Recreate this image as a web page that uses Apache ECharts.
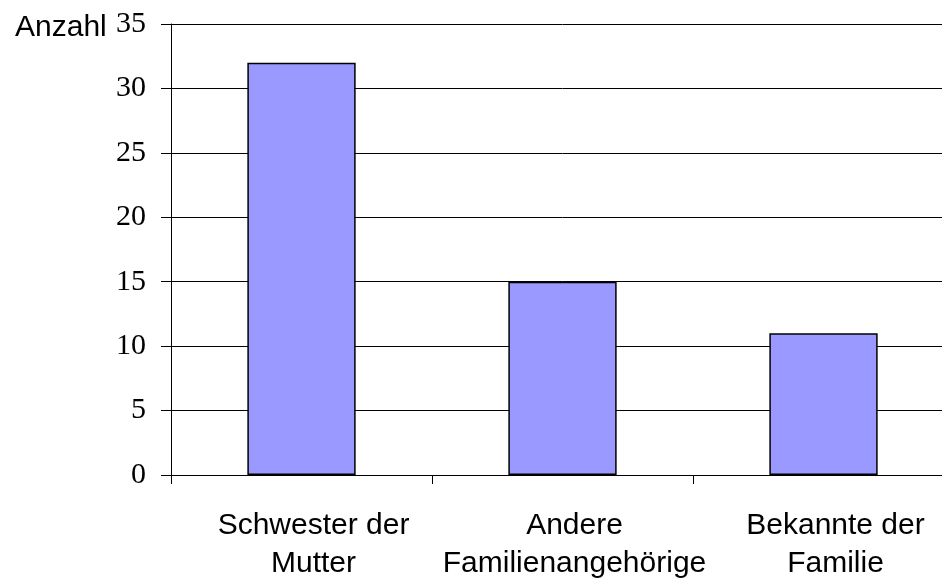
<!DOCTYPE html>
<html><head><meta charset="utf-8">
<script src="https://cdn.jsdelivr.net/npm/echarts@6/dist/echarts.min.js"></script>
<style>html,body{margin:0;padding:0;background:#fff;overflow:hidden}#c{width:960px;height:584px}</style>
</head><body><div id="c"></div>
<script>
const categories = ['Schwester der\nMutter', 'Andere\nFamilienangehörige', 'Bekannte der\nFamilie'];
const values = [32, 15, 11];
const yTicks = [0, 5, 10, 15, 20, 25, 30, 35];

const chart = echarts.init(document.getElementById('c'));
chart.setOption({
  animation: false,
  backgroundColor: '#fff',
  title: { text: 'Anzahl', left: 10, top: 8, textStyle: { fontFamily: 'Liberation Sans', fontSize: 30, fontWeight: 'normal', color: '#000' } },
  grid: { left: 171, right: 6, top: 24, height: 451, containLabel: false },
  xAxis: {
    type: 'category', data: categories, boundaryGap: true,
    axisLine: { lineStyle: { color: '#000', width: 1 } },
    axisTick: { show: true, inside: false, length: 9, lineStyle: { color: '#000' } },
    axisLabel: { fontFamily: 'Liberation Sans', fontSize: 30, color: '#000', lineHeight: 38, margin: 32, interval: 0, padding: [0, 0, 0, 24] }
  },
  yAxis: {
    type: 'value', min: yTicks[0], max: yTicks[yTicks.length - 1], interval: 5,
    axisLine: { show: true, lineStyle: { color: '#000' } },
    axisTick: { show: true, length: 10, lineStyle: { color: '#000' } },
    splitLine: { show: true, lineStyle: { color: '#000', width: 1 } },
    axisLabel: { fontFamily: 'Liberation Serif', fontSize: 30, color: '#000', margin: 25 }
  },
  series: [{
    type: 'bar', data: values, barWidth: '41.5%',
    itemStyle: { color: '#9999ff', borderColor: '#000', borderWidth: 1.5 }
  }]
});
</script></body></html>
